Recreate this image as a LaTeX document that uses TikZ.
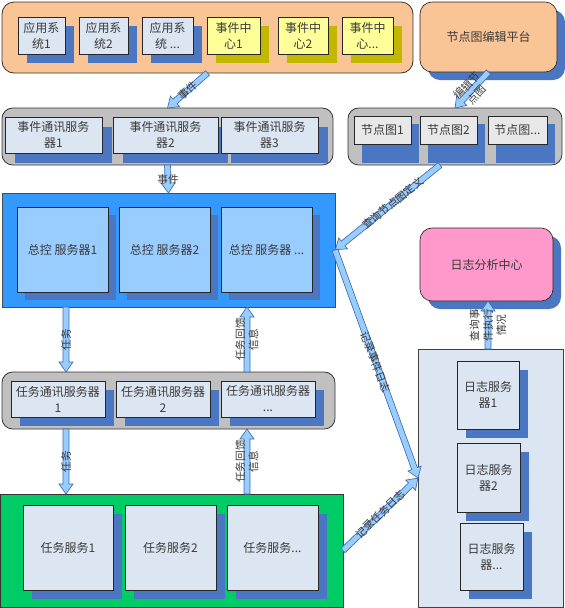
\documentclass[tikz,border=0pt]{standalone}
\usepackage{fontspec}
\setmainfont{Noto Sans CJK SC}
\usetikzlibrary{calc,shadows}
\definecolor{orangeC}{HTML}{FAC596}
\definecolor{paleblue}{HTML}{DCE6F2}
\definecolor{shblue}{HTML}{4A76C2}
\definecolor{evyellow}{HTML}{FFFF99}
\definecolor{olive}{HTML}{C2B800}
\definecolor{grayC}{HTML}{C0C0C0}
\definecolor{nodegray}{HTML}{E8E8E8}
\definecolor{zkblue}{HTML}{3399FF}
\definecolor{zkbox}{HTML}{99CCFF}
\definecolor{greenC}{HTML}{00CC66}
\definecolor{pinkC}{HTML}{FF99CC}
\definecolor{arrfill}{HTML}{99CCFF}
\definecolor{arrdraw}{HTML}{3E6FB0}
\definecolor{txt}{HTML}{3A3A3A}
\newcommand\bx[7]{\node[#6, minimum width={(#4-#2)*0.75pt}, minimum height={(#5-#3)*0.75pt}] (#1) at ({(#2+#4)/2},{(#3+#5)/2}) {#7};}
\newcommand\fatarrow[2]{%
  \path let \p1=(#1), \p2=(#2), \n1={atan2(\y2-\y1,\x2-\x1)}, \n2={veclen(\x2-\x1,\y2-\y1)} in
    \pgfextra{\xdef\faang{\n1}\xdef\falen{\n2}};
  \begin{scope}[shift={(#1)}, rotate=\faang]
    \draw[fatarr] (0pt,-2.25pt) -- ({\falen-7.5pt},-2.25pt) -- ({\falen-7.5pt},-5.25pt) -- ({\falen+0pt},0pt) -- ({\falen-7.5pt},5.25pt) -- ({\falen-7.5pt},2.25pt) -- (0pt,2.25pt) -- cycle;
  \end{scope}}
\tikzset{
  cont/.style={draw=black!80, line width=0.6pt, inner sep=0pt, outer sep=0pt},
  bxs/.style={draw=black!85, line width=0.5pt, inner sep=0pt, outer sep=0pt, align=center, text=txt, font=\fontsize{9pt}{12pt}\selectfont},
  shA/.style={general shadow={fill=shblue, shadow xshift=6.75pt, shadow yshift=-6.75pt}},
  shB/.style={general shadow={fill=shblue, shadow xshift=6pt, shadow yshift=-6pt}},
  shC/.style={general shadow={fill=shblue, shadow xshift=7.5pt, shadow yshift=-7.5pt}},
  shO/.style={general shadow={fill=olive, shadow xshift=6.75pt, shadow yshift=-6.75pt}},
  fatarr/.style={draw=arrdraw, fill=arrfill, line width=0.5pt, line join=miter},
  lbl/.style={text=txt, inner sep=0pt, align=center, font=\fontsize{8pt}{10pt}\selectfont}
}
\begin{document}
\begin{tikzpicture}[x=0.75pt, y=-0.75pt]
\useasboundingbox (0,0) rectangle (565,608);
% top container
\bx{top}{2}{2}{413}{73}{cont, fill=orangeC, rounded corners=9pt}{}
\bx{ap1}{18}{17}{65}{54}{bxs, fill=paleblue, shA}{应用系\\统1}
\bx{ap2}{79}{17}{128}{54}{bxs, fill=paleblue, shA}{应用系\\统2}
\bx{ap3}{142}{17}{193}{54}{bxs, fill=paleblue, shA}{应用系\\统 ...}
\bx{ev1}{207}{17}{260}{54}{bxs, fill=evyellow, shO}{事件中\\心1}
\bx{ev2}{278}{17}{328}{54}{bxs, fill=evyellow, shO}{事件中\\心2}
\bx{ev3}{342}{17}{393}{54}{bxs, fill=evyellow, shO}{事件中\\心...}
% editor
\bx{edit}{420}{2}{557}{72}{bxs, fill=orangeC, rounded corners=9pt, shB}{节点图编辑平台}
% event comm
\bx{ecc}{2}{108}{333}{165}{cont, fill=grayC, rounded corners=8pt}{}
\bx{ec1}{5}{117}{102}{153}{bxs, fill=paleblue, shC}{事件通讯服务\\器1}
\bx{ec2}{113}{117}{218}{153}{bxs, fill=paleblue, shC}{事件通讯服务\\器2}
\bx{ec3}{221}{117}{318}{153}{bxs, fill=paleblue, shC}{事件通讯服务\\器3}
% node graphs
\bx{ng}{348}{108}{562}{165}{cont, fill=grayC, rounded corners=8pt}{}
\fill[shblue] (362,124) rectangle (419,163);
\fill[shblue] (428,124) rectangle (485,163);
\fill[shblue] (496,124) rectangle (555,163);
\bx{ng1}{354}{116}{411}{144}{bxs, fill=nodegray}{节点图1}
\bx{ng2}{420}{116}{477}{144}{bxs, fill=nodegray}{节点图2}
\bx{ng3}{488}{116}{547}{144}{bxs, fill=nodegray}{节点图...}
% master control
\bx{zk}{2}{193}{335}{307}{cont, fill=zkblue, draw=black!70}{}
\bx{zk1}{17}{207}{108}{292}{bxs, fill=zkbox, shB}{总控 服务器1}
\bx{zk2}{119}{207}{210}{292}{bxs, fill=zkbox, shB}{总控 服务器2}
\bx{zk3}{221}{207}{312}{292}{bxs, fill=zkbox, shB}{总控 服务器 ...}
% task comm
\bx{rw}{2}{372}{335}{429}{cont, fill=grayC, rounded corners=8pt}{}
\bx{rw1}{11}{381}{105}{417}{bxs, fill=paleblue, shA}{任务通讯服务器\\1}
\bx{rw2}{116}{381}{210}{417}{bxs, fill=paleblue, shA}{任务通讯服务器\\2}
\bx{rw3}{221}{381}{315}{417}{bxs, fill=paleblue, shA}{任务通讯服务器\\...}
% task services
\bx{green}{0}{494}{343}{607}{cont, fill=greenC}{}
\bx{rs1}{23}{505}{113}{590}{bxs, fill=paleblue, shA}{任务服务1}
\bx{rs2}{125}{505}{216}{590}{bxs, fill=paleblue, shA}{任务服务2}
\bx{rs3}{227}{505}{318}{590}{bxs, fill=paleblue, shA}{任务服务...}
% log servers
\bx{log}{418}{349}{563}{607}{cont, fill=paleblue, draw=black!75}{}
\bx{lg1}{457}{361}{519}{429}{bxs, fill=paleblue, shA}{日志服务\\器1}
\bx{lg2}{457}{443}{520}{512}{bxs, fill=paleblue, shA}{日志服务\\器2}
\bx{lg3}{460}{523}{523}{590}{bxs, fill=paleblue, shA}{日志服务\\器...}
% log analysis
\bx{pink}{420}{228}{553}{301}{bxs, fill=pinkC, rounded corners=9pt, shB}{日志分析中心}
% connector end points
\coordinate (ngq) at ($(ng.south)+(-15,0)$);
\coordinate (zkd1) at ($(zk.south west)+(64,0)$);
\coordinate (zkd2) at ($(zk.south west)+(245,0)$);
\coordinate (rwu1) at ($(rw.north west)+(64,0)$);
\coordinate (rwu2) at ($(rw.north west)+(245,0)$);
\coordinate (rwd1) at ($(rw.south west)+(64,0)$);
\coordinate (rwd2) at ($(rw.south west)+(245,0)$);
\coordinate (grn1) at ($(green.north west)+(66,0)$);
\coordinate (grn2) at ($(green.north west)+(247,0)$);
\coordinate (logt) at ($(log.north)+(-2.5,0)$);
\coordinate (pnkb) at (logt |- pink.south);
% arrows
\fatarrow{top.south}{ecc.north}
\fatarrow{ecc.south}{zk.north}
\fatarrow{edit.south}{ng.north}
\fatarrow{ngq}{zk.east}
\fatarrow{zk.east}{log.west}
\fatarrow{green.east}{log.west}
\fatarrow{logt}{pnkb}
\fatarrow{zkd1}{rwu1}
\fatarrow{rwu2}{zkd2}
\fatarrow{rwd1}{grn1}
\fatarrow{grn2}{rwd2}
% labels
\node[lbl, rotate=41] (l1) at ($(top.south)!0.5!(ecc.north)$) {事件};
\node[lbl] (l2) at ($(ecc.south)!0.5!(zk.north)$) {事件};
\node[lbl, rotate=47] (l3) at ($(edit.south)!0.5!(ng.north)$) {编辑节\\点图};
\node[lbl, rotate=39] (l4) at ($(ngq)!0.45!(zk.east)$) {查询节点图定义};
\node[lbl, rotate=-70] (l5) at ($(zk.east)!0.49!(log.west)$) {记录事件日志};
\node[lbl, rotate=44] (l6) at ($(green.east)!0.5!(log.west)$) {记录任务日志};
\node[lbl, rotate=90] (l7) at ($(logt)!0.5!(pnkb)$) {查询事\\件执行\\情况};
\node[lbl, rotate=90] (l8) at ($(zkd1)!0.5!(rwu1)$) {任务};
\node[lbl, rotate=90] (l9) at ($(zkd2)!0.5!(rwu2)$) {任务回馈\\信息};
\node[lbl, rotate=90] (l10) at ($(rwd1)!0.5!(grn1)$) {任务};
\node[lbl, rotate=90] (l11) at ($(rwd2)!0.5!(grn2)$) {任务回馈\\信息};
\end{tikzpicture}
\end{document}
